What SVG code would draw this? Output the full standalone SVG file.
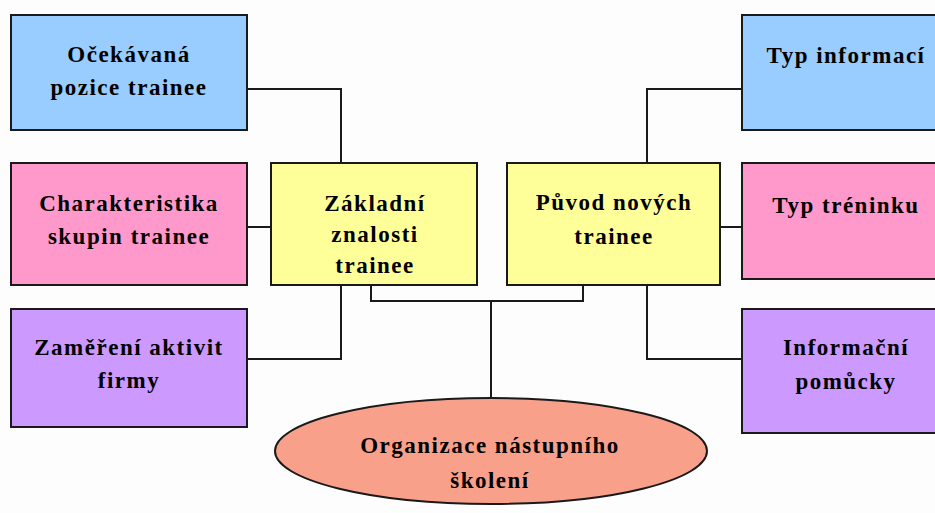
<svg xmlns="http://www.w3.org/2000/svg" width="935" height="513" viewBox="0 0 935 513">
<style>
.box{stroke:#1a1a1a;stroke-width:2}
.blue{fill:#99CCFF}.pink{fill:#FF99CC}.yel{fill:#FFFF99}.pur{fill:#CC99FF}.ell{fill:#F9A08A}
text{font-family:"Liberation Serif","Times New Roman",serif;font-weight:bold;font-size:23px;fill:#000;text-anchor:middle;letter-spacing:1.5px}
.conn{fill:none;stroke:#1a1a1a;stroke-width:2}
</style>
<rect width="935" height="513" fill="#FDFDFD"/>
<g id="connectors">
<polyline class="conn" points="247,89 341,89 341,163"/>
<polyline class="conn" points="247,227 271,227"/>
<polyline class="conn" points="341,285 341,359 247,359"/>
<polyline class="conn" points="371,285 371,301 583,301 583,285"/>
<polyline class="conn" points="491,301 491,398"/>
<polyline class="conn" points="647,163 647,89 742,89"/>
<polyline class="conn" points="720,227 742,227"/>
<polyline class="conn" points="647,285 647,359 742,359"/>
</g>
<g id="n-ocekavana">
<rect class="box blue" x="11" y="15" width="236" height="115"/>
<text x="129" y="62">Očekávaná</text>
<text x="129" y="95">pozice trainee</text>
</g>
<g id="n-charakteristika">
<rect class="box pink" x="11" y="163" width="236" height="122"/>
<text x="129" y="211">Charakteristika</text>
<text x="129" y="244">skupin trainee</text>
</g>
<g id="n-zamereni">
<rect class="box pur" x="11" y="309" width="236" height="118"/>
<text x="129" y="355">Zaměření aktivit</text>
<text x="129" y="388">firmy</text>
</g>
<g id="n-zakladni">
<rect class="box yel" x="271" y="163" width="206" height="122"/>
<text x="375" y="211">Základní</text>
<text x="375" y="242">znalosti</text>
<text x="375" y="273">trainee</text>
</g>
<g id="n-puvod">
<rect class="box yel" x="507" y="163" width="213" height="122"/>
<text x="614" y="210">Původ nových</text>
<text x="614" y="244">trainee</text>
</g>
<g id="n-typinformaci">
<rect class="box blue" x="742" y="15" width="208" height="115"/>
<text x="846" y="63">Typ informací</text>
</g>
<g id="n-typtreninku">
<rect class="box pink" x="742" y="163" width="208" height="116"/>
<text x="846" y="213">Typ tréninku</text>
</g>
<g id="n-informacni">
<rect class="box pur" x="742" y="309" width="208" height="124"/>
<text x="846" y="355">Informační</text>
<text x="846" y="389">pomůcky</text>
</g>
<g id="n-organizace">
<ellipse class="box ell" cx="491" cy="451" rx="216" ry="53"/>
<text x="490" y="453">Organizace nástupního</text>
<text x="490" y="488">školení</text>
</g>
</svg>
